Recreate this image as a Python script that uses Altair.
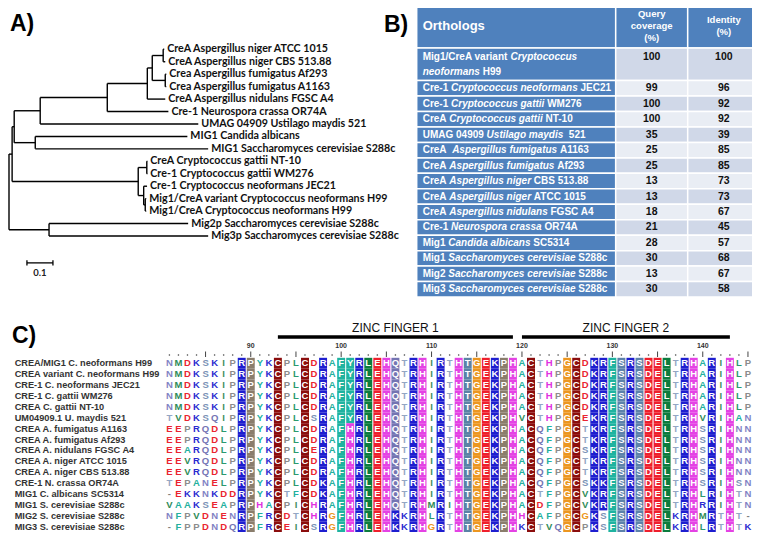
import altair as alt
import pandas as pd

# ================= Panel A: phylogenetic tree =================
leaf_labels = [
    "CreA Aspergillus niger ATCC 1015",
    "CreA Aspergillus niger CBS 513.88",
    "Crea Aspergillus fumigatus Af293",
    "Crea Aspergillus fumigatus A1163",
    "CreA Aspergillus nidulans FGSC A4",
    "Cre-1 Neurospora crassa OR74A",
    "UMAG 04909 Ustilago maydis 521",
    "MIG1 Candida albicans",
    "MIG1 Saccharomyces cerevisiae S288c",
    "CreA Cryptococcus gattii NT-10",
    "Cre-1 Cryptococcus gattii WM276",
    "Cre-1 Cryptococcus neoformans JEC21",
    "Mig1/CreA variant Cryptococcus neoformans H99",
    "Mig1/CreA Cryptococcus neoformans H99",
    "Mig2p Saccharomyces cerevisiae S288c",
    "Mig3p Saccharomyces cerevisiae S288c",
]
tree_child = ["P", "mig23", "Q", "crypto", "n40", "mig1", "aspneuro", "L6", "asp", "L5",
              "nf", "L4", "niger", "fum", "L0", "L1", "L2", "L3", "L7", "L8",
              "gat", "neo", "L9", "L10", "L11", "h99", "L12", "L13", "L14", "L15"]
tree_parent = ["root", "root", "P", "P", "Q", "Q", "n40", "n40", "aspneuro", "aspneuro",
               "asp", "asp", "nf", "nf", "niger", "niger", "fum", "fum", "mig1", "mig1",
               "crypto", "crypto", "gat", "gat", "neo", "neo", "h99", "h99", "mig23", "mig23"]
tree_length = [0.012, 0.154, 0.008, 0.485, 0.100, 0.081, 0.258, 0.608, 0.154, 0.235,
               0.019, 0.069, 0.042, 0.050, 0.004, 0.008, 0.004, 0.004, 0.585, 0.665,
               0.033, 0.021, 0.002, 0.002, 0.013, 0.006, 0.004, 0.004, 0.535, 0.612]
scale_bar_length = 0.1

# ================= Panel B: orthologs table =================
orth_prefix = ["Mig1/CreA variant ", "Cre-1 ", "Cre-1 ", "CreA ", "UMAG 04909 ", "CreA  ",
               "CreA ", "CreA ", "CreA ", "CreA ", "Cre-1 ", "Mig1 ", "Mig1 ", "Mig2 ", "Mig3 "]
orth_species = ["Cryptococcus", "Cryptococcus neoformans", "Cryptococcus gattii",
                "Cryptococcus gattii", "Ustilago maydis", "Aspergillus fumigatus",
                "Aspergillus fumigatus", "Aspergillus niger", "Aspergillus niger",
                "Aspergillus nidulans", "Neurospora crassa", "Candida albicans",
                "Saccharomyces cerevisiae", "Saccharomyces cerevisiae",
                "Saccharomyces cerevisiae"]
orth_suffix = ["", " JEC21", " WM276", " NT-10", "  521", " A1163", " Af293", " CBS 513.88",
               " ATCC 1015", " FGSC A4", " OR74A", " SC5314", " S288c", " S288c", " S288c"]
first_row_line2 = ("neoformans", " H99")
query_coverage = [100, 99, 100, 100, 35, 25, 25, 13, 13, 18, 21, 28, 30, 13, 30]
identity_pct = [100, 96, 92, 92, 39, 85, 85, 73, 73, 67, 45, 57, 68, 67, 58]
header_cols = [["Orthologs"], ["Query", "coverage", "(%)"], ["Identity", "(%)"]]

# ================= Panel C: alignment =================
aln_names = [
    "CREA/MIG1 C. neoformans H99", "CREA variant C. neoformans H99",
    "CRE-1 C. neoformans JEC21", "CRE-1 C. gattii WM276", "CREA C. gattii NT-10",
    "UM04909.1 U. maydis 521", "CREA A. fumigatus A1163", "CREA A. fumigatus Af293",
    "CREA A. nidulans FGSC A4", "CREA A. niger ATCC 1015", "CREA A. niger CBS 513.88",
    "CRE-1 N. crassa OR74A", "MIG1 C. albicans SC5314", "MIG1 S. cerevisiae S288c",
    "MIG2 S. cerevisiae S288c", "MIG3 S. cerevisiae S288c",
]
aln_seqs = [
    "NMDKSKIPRPYKCPLCDRAFYRLEHQTRHIRTHTGEKPHACTHPGCDKRFSRSDELTRHARIHLP",
    "NMDKSKIPRPYKCPLCDRAFYRLEHQTRHIRTHTGEKPHACTHPGCDKRFSRSDELTRHARIHLP",
    "NMDKSKIPRPYKCPLCDRAFYRLEHQTRHIRTHTGEKPHACTHPGCDKRFSRSDELTRHARIHLP",
    "NMDKSKIPRPYKCPLCDRAFYRLEHQTRHIRTHTGEKPHACTHPGCDKRFSRSDELTRHARIHLP",
    "NMDKSKIPRPYKCPLCDRAFYRLEHQTRHIRTHTGEKPHACTHPGCDKRFSRSDELTRHARIHLP",
    "TVDKSQIPRPYKCPLCSRAFYRLEHQTRHIRTHTGEKPHVCTHPGCEKRFSRSDELTRHVRIHAN",
    "EEPRQDLPRPYKCPLCDRAFHRLEHQTRHIRTHTGEKPHACQFPGCTKRFSRSDELTRHSRIHNN",
    "EEPRQDLPRPYKCPLCDRAFHRLEHQTRHIRTHTGEKPHACQFPGCTKRFSRSDELTRHSRIHNN",
    "EEARQDLPRPYKCPLCERAFHRLEHQTRHIRTHTGEKPHACQFPGCSKRFSRSDELTRHSRIHNN",
    "EEVRQDLPRPYKCPLCDRAFHRLEHQTRHIRTHTGEKPHACQFPGCTKRFSRSDELTRHSRIHNN",
    "EEVRQDLPRPYKCPLCDRAFHRLEHQTRHIRTHTGEKPHACQFPGCTKRFSRSDELTRHSRIHNN",
    "TEPANELPRPYKCPLCDKAFHRLEHQTRHIRTHTGEKPHACQFPGCSKKFSRSDELTRHSRIHSN",
    "-EKKNKDDRPYKCTFCDKAFHRLEHQTRHIRTHTGEKPHACTFPGCVKRFSRSDELTRHLRIHTN",
    "VAAKSEAPRPHACPICHRAFHRLEHQTRHMRIHTGEKPHACDFPGCVKRFSRSDELTRHRRIHTN",
    "NFPVDNENRPFRCDTCHRGFHRLEHKKRHLRTHTGEKPHHCAFPGCGKSFSRSDELKRHMRTHT-",
    "-FPPDNDQRPFRCEICSRGFHRLEHKKRHGRTHTGEKPHKCTVQGCPKSFSRSDELKRHLRTHTK",
]
aln_first_position = 81
conserved_residues = {
    89: "R", 90: "P", 93: "C", 96: "C", 98: "RK", 100: "F", 101: "YH", 102: "R", 103: "L",
    104: "E", 105: "H", 106: "QK", 108: "R", 109: "H", 111: "R", 113: "H", 114: "T",
    115: "G", 116: "E", 117: "K", 118: "P", 119: "H", 121: "C", 125: "G", 126: "C",
    128: "K", 129: "RK", 130: "F", 131: "S", 132: "R", 133: "S", 134: "D", 135: "E",
    136: "L", 138: "R", 139: "H", 141: "R", 143: "H",
}
zinc_finger_names = ["ZINC FINGER 1", "ZINC FINGER 2"]
zinc_finger_start = [93, 120]
zinc_finger_end = [119, 143]
ruler_labels = [90, 100, 110, 120, 130, 140]

# ================= styles =================
BOX = {"R": "#1e1ecf", "K": "#1e1ecf", "H": "#e442e4", "D": "#ee1f2c", "E": "#ee1f2c",
       "C": "#8b0d0d", "P": "#8a7d6c", "F": "#1fb3a0", "Y": "#1fb3a0", "A": "#1fb3a0",
       "G": "#ec9620", "L": "#0c7c3e", "I": "#0c7c3e", "M": "#0c7c3e", "V": "#0c7c3e",
       "N": "#7c7cbe", "Q": "#7474b2", "S": "#5d82aa", "T": "#5a82a6", "-": "#ffffff"}
TXT = {"R": "#2a2ad0", "K": "#2a2ad0", "H": "#e030e0", "D": "#ea2430", "E": "#ea2430",
       "C": "#8b0d0d", "P": "#8c8c8c", "F": "#22b09e", "Y": "#22b09e", "A": "#22b09e",
       "G": "#ec9620", "L": "#2a9a6e", "I": "#3f8f5f", "M": "#2e8b57", "V": "#2e8b57",
       "N": "#8282c4", "Q": "#7474b4", "S": "#7a92b6", "T": "#93a6c4", "-": "#808080"}
HB = {" ": 278, "-": 333, ".": 278, "/": 278, "(": 333, ")": 333, "%": 889,
      "A": 722, "B": 722, "C": 722, "D": 722, "E": 667, "F": 611, "G": 778, "H": 722,
      "I": 278, "J": 556, "K": 722, "L": 611, "M": 833, "N": 722, "O": 778, "P": 667,
      "Q": 778, "R": 722, "S": 667, "T": 611, "U": 722, "V": 667, "W": 944, "X": 667,
      "Y": 667, "Z": 611, "a": 556, "b": 611, "c": 556, "d": 611, "e": 556, "f": 333,
      "g": 611, "h": 611, "i": 278, "j": 278, "k": 556, "l": 278, "m": 889, "n": 611,
      "o": 611, "p": 611, "q": 611, "r": 389, "s": 556, "t": 333, "u": 611, "v": 556,
      "w": 778, "x": 556, "y": 556, "z": 500}


def text_w(s, size):
    return sum(HB.get(ch, 556) for ch in s) / 1000.0 * size


M = 8  # page margin: page coordinate -> chart coordinate


def qx(field, domain, rng):
    return alt.X(field, type="quantitative", axis=None,
                 scale=alt.Scale(domain=domain, range=[r - M for r in rng], nice=False, zero=False))


def qy(field, domain, rng):
    return alt.Y(field, type="quantitative", axis=None,
                 scale=alt.Scale(domain=domain, range=[r - M for r in rng], nice=False, zero=False))


layers = []

# ---------- tree layout ----------
children = {}
for c, p in zip(tree_child, tree_parent):
    children.setdefault(p, []).append(c)
length_of = dict(zip(tree_child, tree_length))
depth = {"root": 0.0}
order = ["root"]
i = 0
while i < len(order):
    n = order[i]
    for c in children.get(n, []):
        depth[c] = depth[n] + length_of[c]
        order.append(c)
    i += 1
ypos = {}


def get_y(n):
    if n.startswith("L"):
        return float(n[1:])
    ys = [get_y(c) for c in children[n]]
    ypos[n] = (min(ys) + max(ys)) / 2
    return ypos[n]


for n in depth:
    ypos[n] = get_y(n)

edges = []
for c, p in zip(tree_child, tree_parent):
    edges.append({"x": depth[p], "x2": depth[c], "y": ypos[c], "y2": ypos[c]})
for n, cs in children.items():
    ys = [ypos[c] for c in cs]
    edges.append({"x": depth[n], "x2": depth[n], "y": min(ys), "y2": max(ys)})
edges = pd.DataFrame(edges)

TX = ([0, 1], [9, 269])            # branch length -> page x
TY = ([0, 15], [49.3, 236.0])      # leaf index -> page y

layers.append(alt.Chart(edges).mark_rule(color="black", strokeWidth=1.4).encode(
    x=qx("x", *TX), x2="x2:Q", y=qy("y", *TY), y2="y2:Q"))

leaves = pd.DataFrame({"x": [depth["L%d" % k] for k in range(16)],
                       "y": list(range(16)), "label": leaf_labels})
layers.append(alt.Chart(leaves).mark_text(
    align="left", baseline="middle", dx=3, font="Lato", fontSize=10.7, fontWeight="bold",
    color="#111111").encode(x=qx("x", *TX), y=qy("y", *TY), text="label:N"))

sb0 = 0.069
sb_row = 17.16
sbar = pd.DataFrame({"x": [sb0], "x2": [sb0 + scale_bar_length], "y": [sb_row],
                     "label": [str(scale_bar_length)], "xm": [sb0 + scale_bar_length / 2]})
layers.append(alt.Chart(sbar).mark_rule(color="black", strokeWidth=1.3).encode(
    x=qx("x", *TX), x2="x2:Q", y=qy("y", *TY)))
ends = pd.DataFrame({"x": [sb0, sb0, sb0 + scale_bar_length, sb0 + scale_bar_length],
                     "y": [sb_row - 0.22, sb_row + 0.22, sb_row - 0.22, sb_row + 0.22],
                     "g": [0, 0, 1, 1]})
layers.append(alt.Chart(ends).mark_line(color="black", strokeWidth=1.3).encode(
    x=qx("x", *TX), y=qy("y", *TY), detail="g:N"))
layers.append(alt.Chart(sbar).mark_text(
    baseline="top", dy=5, font="Lato", fontSize=9.5, fontWeight="bold", color="#222").encode(
    x=qx("xm", *TX), y=qy("y", *TY), text="label:N"))

# ---------- table ----------
BXd = [0, 1, 2, 3]
BXr = [416.7, 615.7, 687.7, 760.0]
BYd = [-1, 0, 1, 15]
BYr = [4.0, 48.0, 80.6, 297.0]
cells = []
for k in range(3):
    cells.append({"x": k, "x2": k + 1, "y": -1, "y2": 0, "fill": "#4f81bd"})
for r in range(15):
    y0, y1 = (0, 1) if r == 0 else (r, r + 1)
    cells.append({"x": 0, "x2": 1, "y": y0, "y2": y1, "fill": "#4f81bd"})
    shade = "#d0d8e8" if r % 2 == 0 else "#e9edf4"
    cells.append({"x": 1, "x2": 2, "y": y0, "y2": y1, "fill": shade})
    cells.append({"x": 2, "x2": 3, "y": y0, "y2": y1, "fill": shade})
cells = pd.DataFrame(cells)
layers.append(alt.Chart(cells).mark_rect(stroke="white", strokeWidth=1.5).encode(
    x=qx("x", BXd, BXr), x2="x2:Q", y=qy("y", BYd, BYr), y2="y2:Q",
    color=alt.Color("fill:N", scale=None)))

FS = 10.0
col0_w = BXr[1] - BXr[0]
segs = []
for r in range(15):
    ycen = 0.27 if r == 0 else r + 0.5
    off = 6.0
    segs.append({"x": off / col0_w, "y": ycen, "t": orth_prefix[r].strip(), "it": False})
    off += text_w(orth_prefix[r], FS)
    segs.append({"x": off / col0_w, "y": ycen, "t": orth_species[r], "it": True})
    off += text_w(orth_species[r], FS)
    if orth_suffix[r]:
        lead = len(orth_suffix[r]) - len(orth_suffix[r].lstrip())
        segs.append({"x": (off + text_w(" " * lead, FS)) / col0_w, "y": ycen,
                     "t": orth_suffix[r].strip(), "it": False})
off = 6.0
segs.append({"x": off / col0_w, "y": 0.73, "t": first_row_line2[0], "it": True})
off += text_w(first_row_line2[0], FS) + text_w(" ", FS)
segs.append({"x": off / col0_w, "y": 0.73, "t": first_row_line2[1].strip(), "it": False})
segs = pd.DataFrame(segs)
for it in (False, True):
    layers.append(alt.Chart(segs[segs["it"] == it]).mark_text(
        align="left", baseline="middle", font="Liberation Sans", fontSize=FS,
        fontWeight="bold", fontStyle="italic" if it else "normal", color="white").encode(
        x=qx("x", BXd, BXr), y=qy("y", BYd, BYr), text="t:N"))

nums = []
for r in range(15):
    ycen = 0.27 if r == 0 else r + 0.5
    nums.append({"x": 1.5, "y": ycen, "t": str(query_coverage[r])})
    nums.append({"x": 2.5, "y": ycen, "t": str(identity_pct[r])})
nums = pd.DataFrame(nums)
layers.append(alt.Chart(nums).mark_text(
    baseline="middle", font="Liberation Sans", fontSize=10.5, fontWeight="bold",
    color="#111111").encode(x=qx("x", BXd, BXr), y=qy("y", BYd, BYr), text="t:N"))

hdr_span = BYr[1] - BYr[0]
hdr = [{"x": 6.0 / col0_w, "y": -0.5, "t": header_cols[0][0], "fs": "big"}]
for k, lines in ((1, header_cols[1]), (2, header_cols[2])):
    n = len(lines)
    for j, ln in enumerate(lines):
        hdr.append({"x": k + 0.5, "y": -0.5 + (j - (n - 1) / 2) * 12.0 / hdr_span,
                    "t": ln, "fs": "small"})
hdr = pd.DataFrame(hdr)
layers.append(alt.Chart(hdr[hdr.fs == "big"]).mark_text(
    align="left", baseline="middle", font="Liberation Sans", fontSize=13, fontWeight="bold",
    color="white").encode(x=qx("x", BXd, BXr), y=qy("y", BYd, BYr), text="t:N"))
layers.append(alt.Chart(hdr[hdr.fs == "small"]).mark_text(
    align="center", baseline="middle", font="Liberation Sans", fontSize=9.5, fontWeight="bold",
    color="white").encode(x=qx("x", BXd, BXr), y=qy("y", BYd, BYr), text="t:N"))

# ---------- alignment ----------
CXd = [80.5, 145.5]
CXr = [169.4 - 4.52, 169.4 + 64 * 9.04 + 4.52]
CYd = [-0.5, 15.5]
CYr = [357.8, 532.2]
recs = []
for r, seq in enumerate(aln_seqs):
    for j, ch in enumerate(seq):
        col = aln_first_position + j
        boxed = ch in conserved_residues.get(col, "")
        recs.append({"col": col, "row": r, "res": ch, "boxed": boxed,
                     "x": col - 0.44, "x2": col + 0.44, "y": r - 0.5, "y2": r + 0.5,
                     "bg": BOX.get(ch, "#999"),
                     "fg": "white" if boxed else TXT.get(ch, "#888")})
recs = pd.DataFrame(recs)
layers.append(alt.Chart(recs[recs.boxed]).mark_rect().encode(
    x=qx("x", CXd, CXr), x2="x2:Q", y=qy("y", CYd, CYr), y2="y2:Q",
    color=alt.Color("bg:N", scale=None)))
layers.append(alt.Chart(recs).mark_text(
    baseline="middle", font="Liberation Sans", fontSize=9.5, fontWeight="bold").encode(
    x=qx("col", CXd, CXr), y=qy("row", CYd, CYr), text="res:N",
    color=alt.Color("fg:N", scale=None)))

names = pd.DataFrame({"row": list(range(16)), "name": aln_names})
layers.append(alt.Chart(names).mark_text(
    align="left", baseline="middle", font="Liberation Sans", fontSize=9.2, fontWeight="bold",
    color="#333333").encode(x=alt.value(14.7 - M), y=qy("row", CYd, CYr), text="name:N"))

cols = list(range(aln_first_position, aln_first_position + len(aln_seqs[0])))
ruler = pd.DataFrame({"col": cols, "tick": [c % 5 == 0 for c in cols]})
layers.append(alt.Chart(ruler[~ruler.tick]).mark_circle(size=2.5, color="#444", opacity=1).encode(
    x=qx("col", CXd, CXr), y=alt.value(355 - M)))
layers.append(alt.Chart(ruler[ruler.tick]).mark_rule(color="#444", strokeWidth=1).encode(
    x=qx("col", CXd, CXr), y=alt.value(351.5 - M), y2=alt.value(357 - M)))
rl = pd.DataFrame({"col": ruler_labels, "t": [str(v) for v in ruler_labels]})
layers.append(alt.Chart(rl).mark_text(
    baseline="middle", font="Liberation Sans", fontSize=7, fontWeight="bold", color="#333").encode(
    x=qx("col", CXd, CXr), y=alt.value(346 - M), text="t:N"))

zf = pd.DataFrame({"s": zinc_finger_start, "e": zinc_finger_end, "name": zinc_finger_names,
                   "m": [(a + b) / 2 for a, b in zip(zinc_finger_start, zinc_finger_end)]})
layers.append(alt.Chart(zf).mark_rule(color="black", strokeWidth=3.5).encode(
    x=qx("s", CXd, CXr), x2="e:Q", y=alt.value(337 - M)))
layers.append(alt.Chart(zf).mark_text(
    baseline="middle", font="Liberation Sans", fontSize=12, color="#111").encode(
    x=qx("m", CXd, CXr), y=alt.value(328 - M), text="name:N"))

# ---------- panel letters ----------
panel = pd.DataFrame({"t": ["A)", "B)", "C)"], "px": [10, 384, 12], "py": [24, 25, 336]})
for _, row in panel.iterrows():
    layers.append(alt.Chart(pd.DataFrame({"t": [row.t]})).mark_text(
        align="left", baseline="middle", font="Liberation Sans", fontSize=23,
        fontWeight="bold", color="black").encode(
        x=alt.value(row.px - M), y=alt.value(row.py - M), text="t:N"))

chart = alt.layer(*layers).resolve_scale(x="independent", y="independent").properties(
    width=744, height=524, padding=0, autosize="none").configure_view(stroke=None)

chart.save("out.html", embed_options={"renderer": "svg", "actions": False})
